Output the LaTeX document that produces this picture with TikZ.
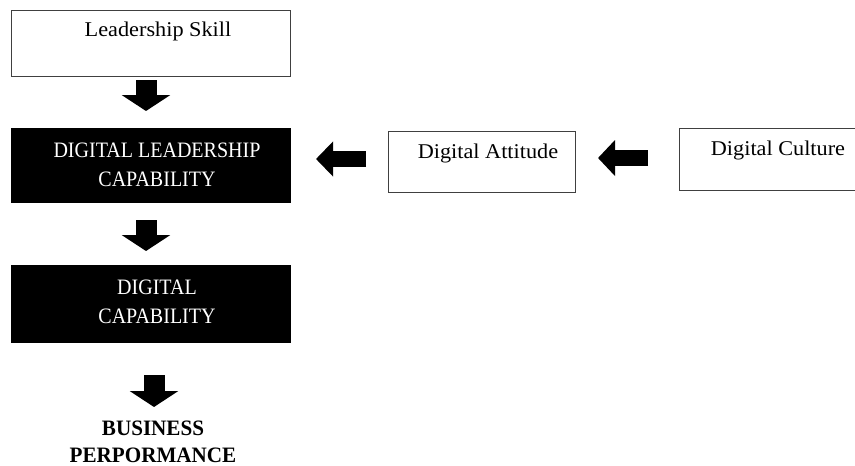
\documentclass[tikz,border=0pt]{standalone}
\usepackage{fontspec}
\setmainfont{Liberation Serif}[FakeStretch=1.06]
\newfontfamily\capsfont{Liberation Serif}[FakeStretch=0.91]
\newfontfamily\boldcapsfont{Liberation Serif Bold}[FakeStretch=0.96]
\usetikzlibrary{arrows.meta}
\tikzset{
  wbox/.style={draw=black!75, line width=0.9pt, fill=white, inner sep=0pt, anchor=north west},
  bbox/.style={draw=black, fill=black, inner sep=0pt, anchor=north west},
  txt/.style={inner sep=0pt, align=center, font=\fontsize{21}{29}\selectfont},
  wtxt/.style={txt, text=white, font=\fontsize{22}{29}\selectfont\capsfont},
  btxt/.style={txt, font=\fontsize{22}{27}\selectfont\boldcapsfont},
  blockarrow/.style={line width=21pt, black, -{Triangle[width=48pt,length=16pt]}},
}
\begin{document}
\begin{tikzpicture}[x=1pt,y=-1pt]
\useasboundingbox (0,0) rectangle (855,466);
% boxes
\node[wbox, minimum width=279pt, minimum height=66pt] (ls) at (11,10) {};
\node[txt] (lst) at (158,31) {Leadership Skill};
\node[bbox, minimum width=279pt, minimum height=74pt] (dlc) at (11,128) {};
\node[wtxt] (dlct) at (157,165) {DIGITAL LEADERSHIP\\CAPABILITY};
\node[bbox, minimum width=279pt, minimum height=77pt] (dc) at (11,265) {};
\node[wtxt] (dct) at (157,302) {DIGITAL\\CAPABILITY};
\node[btxt] (bp) at (153,442) {BUSINESS\\PERPORMANCE};
\node[wbox, minimum width=187pt, minimum height=61pt] (da) at (388,131) {};
\node[txt] (dat) at (488,153) {Digital Attitude};
\node[wbox, minimum width=180pt, minimum height=62pt] (dcu) at (679,128) {};
\node[txt] (dcut) at (778,150) {Digital Culture};
% arrows
\coordinate (a1s) at (146,80);  \coordinate (a1e) at (146,111);
\coordinate (a2s) at (146,220); \coordinate (a2e) at (146,251);
\coordinate (a3s) at (154,375); \coordinate (a3e) at (154,407);
\coordinate (a4s) at (366,159); \coordinate (a4e) at (316,159);
\coordinate (a5s) at (648,158); \coordinate (a5e) at (598,158);
\draw[blockarrow] (a1s) -- (a1e);
\draw[blockarrow] (a2s) -- (a2e);
\draw[blockarrow] (a3s) -- (a3e);
\draw[blockarrow, line width=16pt, -{Triangle[width=34pt,length=17pt]}] (a4s) -- (a4e);
\draw[blockarrow, line width=16pt, -{Triangle[width=35pt,length=17pt]}] (a5s) -- (a5e);
\end{tikzpicture}
\end{document}
